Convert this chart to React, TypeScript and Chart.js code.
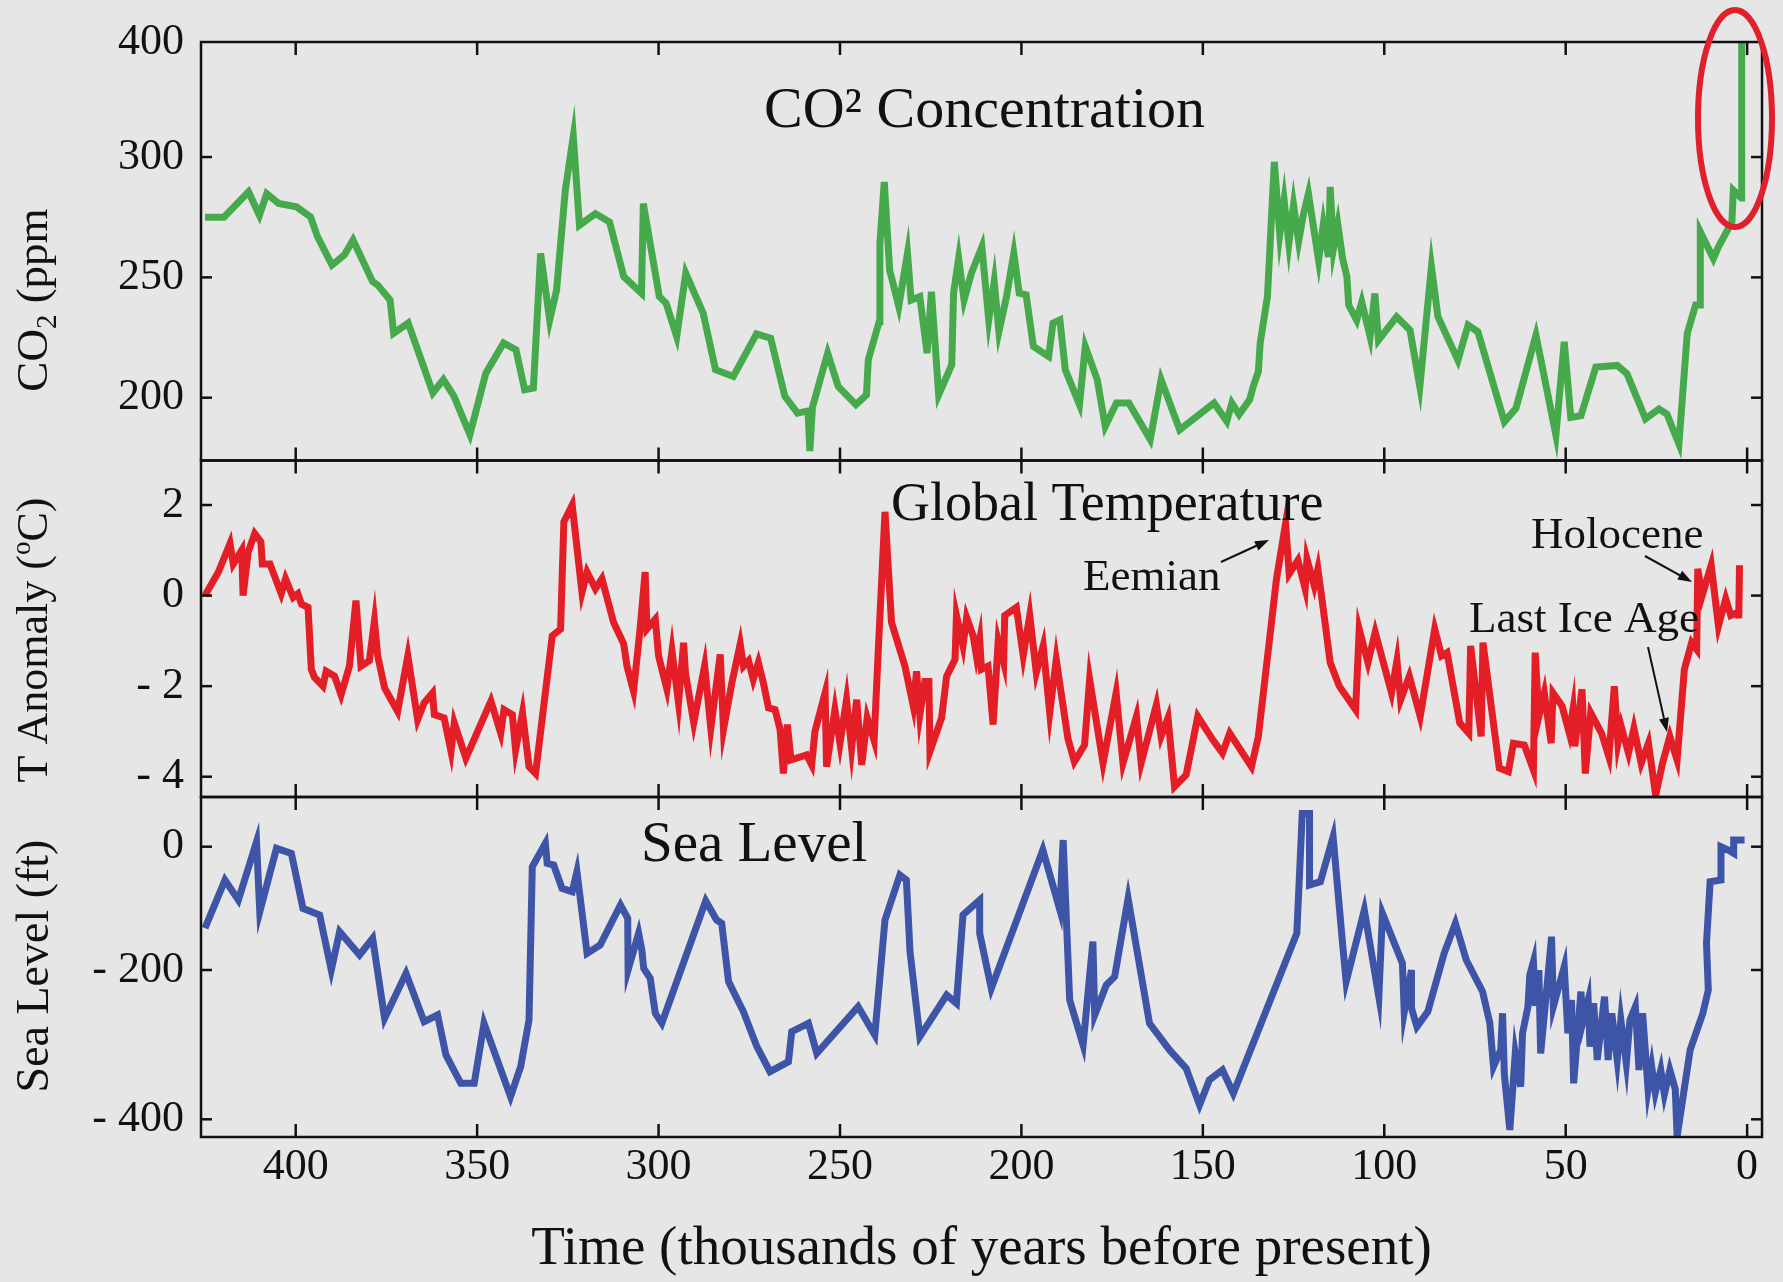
import React, { useEffect, useRef } from 'react';
import { Chart, registerables, LinearScale } from 'chart.js';

// ---------------- data ----------------
const xTickValues = [0, 50, 100, 150, 200, 250, 300, 350, 400];
const co2TickValues = [200, 250, 300, 400];
const tempTickValues = [-4, -2, 0, 2];
const seaTickValues = [-400, -200, 0];

// [thousands of years before present, CO2 ppm]
const co2Points: [number, number][] = [
  [425, 275], [419.8, 275], [413, 285.5], [410, 275.8], [408, 284.8], [404.7, 280.7], [399.8, 279.3],
  [395.9, 275.1], [394, 266.9], [390, 255.1], [386.6, 259.3], [384.2, 265.5], [378.8, 248.2], [377.4, 246.8],
  [374, 240.6], [373, 226.8], [369, 231], [362.2, 202], [359.3, 207.5], [356.4, 200.6], [352, 184.7],
  [347.6, 210.2], [342.7, 222.7], [339.3, 219.9], [336.9, 203.3], [334.5, 204], [332.5, 259.9], [330, 232.3],
  [328.1, 244.8], [325.7, 286.2], [323.5, 318], [321.8, 271.7], [317.4, 276.5], [313.5, 273], [309.6, 250.3],
  [304.7, 243.4], [304.2, 280.7], [299.8, 242], [297.9, 239.2], [295, 225.4], [292.5, 251.7], [287.7, 235.1],
  [284.3, 211.6], [279.4, 208.8], [273, 226.5], [269.1, 224.7], [265.2, 200.6], [261.7, 193.6], [258.8, 194.5],
  [258.3, 177.8], [257.6, 196], [253.4, 218.5], [250.5, 204.7], [245.6, 197.1], [242.7, 201.2], [242.2, 215.7],
  [239.2, 231.6], [239, 264], [237.8, 289.6], [236.3, 253], [233.8, 238], [231.4, 260], [230.4, 240.6],
  [228, 242], [226, 218.5], [224.8, 244], [222.8, 201.2], [219.2, 213.7], [218.7, 243.4], [217.3, 257.9],
  [215.8, 240.6], [213.8, 251.7], [210.9, 262.7], [209, 232.3], [207.5, 248.2], [206.2, 227.5], [204.1, 242],
  [202.1, 260], [200.6, 243.4], [198.7, 242.7], [196.7, 221.3], [192.5, 217.1], [191.3, 231], [189.4, 232.3],
  [187.9, 211.6], [184, 197.1], [182.4, 221.3], [179.1, 207.5], [176.9, 188.1], [173.8, 197.8], [170.4, 197.8],
  [164.5, 182.6], [161.5, 207.5], [156.4, 186.7], [146.9, 197.8], [143.4, 190.2], [142, 197.8], [140, 193],
  [137.1, 199.2], [136.1, 204.7], [134.7, 210.9], [134.2, 222.7], [132.2, 242], [130.3, 298], [128.8, 268],
  [127.6, 282], [126.3, 264], [125, 280], [123.6, 265], [122.3, 276], [120.9, 284.8], [118.1, 257.1],
  [116.8, 272], [115.4, 258.5], [114.9, 287.6], [114, 262], [112.8, 272], [111.5, 258], [110.3, 250.2],
  [109.8, 238.5], [107.6, 232.2], [106.2, 239.8], [103.9, 225.3], [102.6, 243.3], [101.6, 223.9], [96.6, 233.6],
  [92.9, 228], [90.2, 204.6], [87, 254.4], [85.2, 233.6], [79.7, 215.6], [76.9, 230.2], [74.2, 227.4],
  [66.9, 190], [63.7, 195.6], [58.2, 226], [52.7, 184.5], [50.4, 223.2], [48.6, 191.8], [45.8, 192.5],
  [41.7, 212.7], [35.8, 213.4], [33.1, 209.9], [28, 191.2], [24.3, 195.3], [22.1, 193.2], [18.8, 180.8],
  [16.5, 226.7], [14.2, 238.5], [12.9, 238.5], [12.9, 268.9], [9.3, 257.8], [7.9, 262.7], [4.2, 273],
  [3.8, 286.2], [1.6, 283], [1.5, 400],
];

// [thousands of years before present, temperature anomaly °C]
const tempPoints: [number, number][] = [
  [425, 0], [421.3, 0.52], [418.1, 1.15], [417.2, 0.7], [414.9, 1.0], [414.5, 0], [413.1, 0.96], [411.3, 1.37],
  [409.6, 1.19], [409.2, 0.7], [407.1, 0.7], [404, 0.04], [402.8, 0.37], [400.7, -0.04], [399.4, 0.04],
  [398.4, -0.19], [396.6, -0.26], [395.7, -1.63], [394.8, -1.81], [392.5, -2], [391.6, -1.67], [389.3, -1.78],
  [387.5, -2.19], [385.2, -1.56], [383.4, -0.11], [382, -1.56], [379.7, -1.44], [378.3, -0.56], [377.4, -1.33],
  [375.5, -2.04], [371.9, -2.56], [369.1, -1.33], [366.4, -2.74], [364.6, -2.37], [362.3, -2.15], [361.8, -2.63],
  [359.1, -2.7], [357.2, -3.44], [356.3, -2.81], [353.1, -3.59], [346.2, -2.33], [343.5, -3.04], [342.6, -2.52],
  [340.3, -2.63], [339.4, -3.41], [337.5, -2.59], [335.7, -3.78], [333.9, -3.93], [329.3, -0.89], [327, -0.74],
  [326.1, 1.63], [323.8, 2.0], [321.1, 0.07], [319.7, 0.52], [317.4, 0.15], [315.6, 0.37], [312.4, -0.59],
  [309.6, -1.07], [308.7, -1.56], [306.9, -2.11], [305.1, -0.74], [303.7, 0.52], [303.2, -0.74], [300.9, -0.52],
  [300, -1.33], [297.7, -2.07], [296.3, -1.22], [294.5, -2.37], [293.1, -1.04], [292.6, -1.7], [290.3, -2.81],
  [287.3, -1.55], [285.6, -2.93], [283, -1.3], [282.1, -2.96], [279.8, -1.93], [277.5, -1.07], [276.6, -1.56],
  [275.2, -1.44], [273.9, -1.85], [272.5, -1.48], [271.1, -1.93], [269.7, -2.48], [267.9, -2.52], [266.5, -2.96],
  [265.6, -3.93], [264.5, -2.85], [263.5, -3.63], [259.2, -3.52], [257.8, -3.74], [256.9, -3], [254.1, -2.15],
  [253.7, -3.78], [251.4, -2.52], [250, -3.26], [248.2, -2.3], [246.8, -3.37], [245.4, -2.3], [244, -3.74],
  [242.5, -2.7], [240.6, -3.2], [239.5, -1.3], [237.6, 1.85], [235.8, -0.59], [232.1, -1.56], [229.8, -2.44],
  [228.9, -1.67], [228, -2.63], [226.6, -1.9], [225.5, -1.9], [225.2, -3.44], [222, -2.7], [220.6, -1.78],
  [218.3, -1.41], [217.9, -0.44], [216.1, -1.11], [215.1, -0.48], [213.3, -0.89], [212.4, -1.33], [211.5, -0.96],
  [211, -1.63], [209.2, -1.56], [207.8, -2.85], [206.4, -1], [204.9, -1.48], [204.6, -0.44], [201.4, -0.26],
  [199.5, -1.33], [197.7, -0.44], [195.9, -1.7], [194, -1.11], [192.2, -2.59], [190.4, -1.41], [187.2, -3.15],
  [185.4, -3.67], [182.6, -3.3], [181.2, -1.85], [177.5, -3.7], [173.9, -2.15], [172, -3.7], [168.3, -2.67],
  [167, -3.7], [162.8, -2.41], [161.5, -3.11], [159.6, -2.7], [157.8, -4.22], [154.6, -3.96], [151.4, -2.67],
  [147.2, -3.19], [144.6, -3.48], [142.6, -3.04], [136.6, -3.78], [134.7, -3.11], [129.7, 0.37], [127.2, 1.59],
  [126.2, 0.48], [123.8, 0.78], [121.8, 0.15], [121.3, 0.81], [119.3, 0.22], [118.3, 0.59], [116.8, -0.3],
  [114.9, -1.48], [112.4, -2], [107.9, -2.52], [106.9, -0.74], [104.5, -1.48], [102.5, -0.81], [98, -2.15],
  [96.5, -1.44], [95.5, -2.3], [93.1, -1.78], [90.1, -2.67], [86.1, -0.74], [84.2, -1.33], [82.7, -1.26],
  [79.2, -2.81], [76.7, -3.04], [76.2, -1.11], [73.3, -3.11], [72.8, -1.04], [68.3, -3.81], [65.8, -3.89],
  [64.4, -3.26], [61.4, -3.3], [58.9, -3.85], [58.4, -1.26], [57.4, -2.67], [55.9, -2.15], [54, -3.26],
  [53.5, -2.15], [51, -2.44], [49, -3.04], [48, -2.52], [47.5, -3.33], [45.5, -2.07], [44.6, -3.93],
  [43.1, -2.59], [40.1, -3.04], [38.1, -3.56], [36.6, -2], [35.6, -3.26], [34.7, -2.89], [32.7, -3.48],
  [31.2, -2.93], [29.2, -3.7], [27.2, -3.26], [25.2, -4.41], [23.3, -3.7], [21.3, -3.11], [19.3, -3.63],
  [17.3, -1.63], [15.3, -1.04], [13.9, -1.19], [13.6, 0.59], [12.4, 0], [9.9, 0.67], [7.9, -0.67],
  [5.9, -0.07], [4.5, -0.44], [2.5, -0.37], [2.3, -0.5], [2.1, 0.67],
];

// [thousands of years before present, sea level ft]
const seaPoints: [number, number][] = [
  [425, -132], [419.5, -54.1], [415.8, -86.5], [410.8, 8.1], [409.9, -105.4], [405.3, -2.7], [401.2, -10.8],
  [398, -100], [393.4, -110.8], [390.2, -200], [387.9, -137.8], [382.4, -175.7], [378.8, -148.6], [375.5, -264.7],
  [369.6, -204.5], [364.6, -269.2], [360.9, -260.3], [358.6, -313.8], [354.5, -351.8], [350.8, -351.8],
  [348.1, -271.4], [340.8, -369.6], [338, -329.5], [335.7, -267], [334.8, -32.4], [331.2, 5.4], [330.7, -27],
  [328.9, -29.7], [326.6, -67.6], [323.8, -73], [322.5, -40.5], [319.7, -173], [316.1, -159.5], [310.5, -94.6],
  [308.5, -116], [308.4, -200], [305.5, -140.5], [304.6, -167.6], [304.1, -197.3], [302.3, -211.2], [300.9, -258],
  [299.1, -271.4], [287, -88], [284, -118.9], [282.6, -124.3], [280.7, -215.6], [276.6, -256], [272.9, -302.7],
  [269.3, -336.2], [264.2, -322.8], [263.3, -282.6], [258.7, -271.4], [256.4, -311.6], [245, -249.1],
  [240.4, -287.1], [237.6, -118.9], [233.5, -45.9], [231.7, -54.1], [230.7, -170.3], [228, -289.3],
  [220.6, -233.5], [217.9, -244.6], [216.1, -110.8], [211.5, -86.5], [211.5, -140.5], [208.3, -224.6],
  [194.1, -5.4], [189.4, -102.7], [188.5, 10.8], [186.7, -240.2], [183, -300.4], [180.3, -154], [179.8, -260.3],
  [176.6, -220.1], [174.3, -208.9], [170.6, -83.8], [164.7, -271.4], [159.2, -307.1], [154.6, -331.7],
  [150.9, -380.8], [148.2, -347.3], [144.6, -333.9], [141.6, -365.2], [124.1, -140.5], [122.6, 54], [120.6, 54],
  [120.6, -62.2], [117.6, -56.8], [114.1, 16.2], [111.5, -156.8], [110.5, -215.6], [105.5, -102.7],
  [101.5, -236.2], [100.5, -108.1], [95, -189.2], [94.5, -256.3], [92.5, -200], [92.5, -251.4], [91, -275.9],
  [88, -255.8], [83.5, -173], [80.4, -124.3], [77.4, -183.8], [72.9, -229], [70.9, -271.4], [69.9, -329.5],
  [67.9, -307.1], [67.4, -258], [66.9, -340.2], [65.4, -414.3], [63.9, -311.6], [62.4, -356.3], [61.9, -284.8],
  [60.4, -249.1], [59.9, -206.7], [58.9, -186.5], [58.4, -248.2], [57.4, -200], [56.9, -311.6], [54.9, -208.9],
  [53.9, -146], [53.4, -249.1], [50.4, -194.6], [49.4, -284.8], [48.4, -240.2], [47.8, -351.8], [45.8, -229],
  [45.3, -270.1], [43.8, -240.2], [43.3, -302.7], [42.3, -244.6], [41.3, -320.5], [39.3, -235.7], [38.3, -320.5],
  [37.3, -258], [35.8, -320.5], [34.8, -267], [33.3, -325], [32.3, -267], [30.8, -249.1], [29.8, -334],
  [28.8, -258], [27.3, -359.8], [26.3, -329.5], [25.3, -364.3], [23.8, -334], [22.8, -366.5], [21.3, -334],
  [19.8, -359.8], [19.3, -423], [15.7, -307.1], [12.2, -258], [10.7, -226.8], [11.2, -156.8], [10.2, -56.8],
  [7.2, -54.1], [7.2, 0], [5.2, -5.4], [3.7, -10.8], [3.7, 10.8], [0.7, 10.8],
];

// ---------------- style ----------------
const BG = '#e6e6e6';
const INK = '#111111';
const GREEN = '#46aa4c';
const RED = '#e31e26';
const BLUE = '#3e55a7';
const SERIF = '"Liberation Serif", "Times New Roman", Times, serif';

// The reference's value axes are not uniform: piecewise maps real value -> axis position
const AXIS_WARP: Record<string, number[][]> = {
  yCO2: [[200, 200], [300, 300], [400, 347.8]],
  ySea: [[-400, -442.2], [-200, -200], [0, 0]],
};

function pw(table: number[][], v: number, a: number, b: number) {
  let i = 0;
  const n = table.length;
  if (v >= table[n - 1][a]) i = n - 2;
  else if (v > table[0][a]) {
    while (i < n - 2 && v > table[i + 1][a]) i++;
  }
  const p0 = table[i], p1 = table[i + 1];
  return p0[b] + ((v - p0[a]) * (p1[b] - p0[b])) / (p1[a] - p0[a]);
}

class WarpScale extends LinearScale {
  static id = 'warp';
  getPixelForValue(value: any) {
    const t = AXIS_WARP[(this as any).id];
    const v = t && value !== null && value !== undefined ? pw(t, value, 0, 1) : value;
    return super.getPixelForValue(v);
  }
  getValueForPixel(pixel: number) {
    const v = super.getValueForPixel(pixel) as number;
    const t = AXIS_WARP[(this as any).id];
    return t ? pw(t, v, 1, 0) : v;
  }
}

Chart.register(...registerables, WarpScale as any);

const fmt = (v: any) => (Number(v) < 0 ? '- ' + Math.abs(Number(v)) : String(v));

function yAxis(weight: number, min: number, max: number, ticks: number[], type: string) {
  return {
    type,
    position: 'left',
    stack: 'panels',
    stackWeight: weight,
    min,
    max,
    grid: { display: false, drawTicks: false },
    border: { display: false },
    ticks: {
      autoSkip: false,
      padding: 17,
      color: INK,
      font: { family: SERIF, size: 44, lineHeight: 1 },
      callback: fmt,
    },
    afterBuildTicks: (s: any) => {
      s.ticks = ticks.map((v) => ({ value: v }));
    },
    afterFit: (s: any) => {
      s.width = 201;
      s.paddingTop = 0;
      s.paddingBottom = 0;
    },
  };
}

function line(ctx: CanvasRenderingContext2D, x1: number, y1: number, x2: number, y2: number) {
  ctx.beginPath();
  ctx.moveTo(x1, y1);
  ctx.lineTo(x2, y2);
  ctx.stroke();
}

function arrow(ctx: CanvasRenderingContext2D, x1: number, y1: number, x2: number, y2: number) {
  const a = Math.atan2(y2 - y1, x2 - x1);
  const L = 14, W = 5;
  line(ctx, x1, y1, x2 - 6 * Math.cos(a), y2 - 6 * Math.sin(a));
  ctx.beginPath();
  ctx.moveTo(x2, y2);
  ctx.lineTo(x2 - L * Math.cos(a) + W * Math.sin(a), y2 - L * Math.sin(a) - W * Math.cos(a));
  ctx.lineTo(x2 - L * Math.cos(a) - W * Math.sin(a), y2 - L * Math.sin(a) + W * Math.cos(a));
  ctx.closePath();
  ctx.fill();
}

type Part = { t: string; size: number; shift: number };
function verticalTitle(ctx: CanvasRenderingContext2D, baseX: number, centerY: number, parts: Part[]) {
  ctx.save();
  ctx.translate(baseX, centerY);
  ctx.rotate(-Math.PI / 2);
  ctx.textAlign = 'left';
  ctx.textBaseline = 'alphabetic';
  let total = 0;
  const widths: number[] = [];
  for (const p of parts) {
    ctx.font = `${p.size}px ${SERIF}`;
    const w = ctx.measureText(p.t).width;
    widths.push(w);
    total += w;
  }
  let x = -total / 2;
  parts.forEach((p, i) => {
    ctx.font = `${p.size}px ${SERIF}`;
    ctx.fillText(p.t, x, p.shift);
    x += widths[i];
  });
  ctx.restore();
}

function text(ctx: CanvasRenderingContext2D, s: string, x: number, y: number, size: number) {
  ctx.font = `${size}px ${SERIF}`;
  ctx.textAlign = 'left';
  ctx.textBaseline = 'alphabetic';
  ctx.fillText(s, x, y);
}

const decorPlugin = {
  id: 'decor',
  beforeDraw(chart: any) {
    const ctx = chart.ctx as CanvasRenderingContext2D;
    ctx.save();
    ctx.fillStyle = BG;
    ctx.fillRect(0, 0, chart.width, chart.height);
    ctx.restore();
  },
  afterDraw(chart: any) {
    const ctx = chart.ctx as CanvasRenderingContext2D;
    const area = chart.chartArea;
    const xs = chart.scales.x;
    ctx.save();
    ctx.strokeStyle = INK;
    ctx.fillStyle = INK;
    ctx.lineWidth = 2.5;
    for (const id of ['yCO2', 'yTemp', 'ySea']) {
      const s = chart.scales[id];
      ctx.strokeRect(area.left, s.top, area.right - area.left, s.bottom - s.top);
      for (const v of xTickValues) {
        const px = xs.getPixelForValue(v);
        line(ctx, px, s.top, px, s.top + 13);
        line(ctx, px, s.bottom, px, s.bottom - 13);
      }
      for (const t of s.ticks) {
        const py = s.getPixelForValue(t.value);
        if (Math.abs(py - s.top) < 3 || Math.abs(py - s.bottom) < 3) continue;
        line(ctx, area.left, py, area.left + 11, py);
        line(ctx, area.right, py, area.right - 11, py);
      }
    }

    // panel titles
    text(ctx, 'CO² Concentration', 764, 127, 58);
    text(ctx, 'Global Temperature', 891, 520, 54);
    text(ctx, 'Sea Level', 641, 861, 57);

    // annotations
    text(ctx, 'Eemian', 1083, 590, 45);
    text(ctx, 'Holocene', 1531, 548, 45);
    text(ctx, 'Last Ice Age', 1469, 632, 45);
    ctx.lineWidth = 2;
    arrow(ctx, 1221, 562, 1269, 540);
    arrow(ctx, 1645, 556, 1692, 582);
    arrow(ctx, 1648, 647, 1667, 732);

    // axis titles (rotated)
    verticalTitle(ctx, 47, 300, [
      { t: 'CO', size: 45, shift: 0 },
      { t: '2', size: 29, shift: 9 },
      { t: ' (ppm', size: 45, shift: 0 },
    ]);
    verticalTitle(ctx, 47, 640, [
      { t: 'T Anomaly (', size: 44, shift: 0 },
      { t: 'o', size: 27, shift: -17 },
      { t: 'C)', size: 44, shift: 0 },
    ]);
    verticalTitle(ctx, 48, 966, [{ t: 'Sea Level (ft)', size: 46, shift: 0 }]);

    // red highlight ellipse
    ctx.strokeStyle = '#e0202a';
    ctx.lineWidth = 6;
    ctx.beginPath();
    ctx.ellipse(1735, 118.5, 37, 108.5, 0, 0, Math.PI * 2);
    ctx.stroke();
    ctx.restore();
  },
};

export default function App() {
  const ref = useRef<HTMLCanvasElement | null>(null);
  useEffect(() => {
    if (!ref.current) return;
    const ds = (pts: [number, number][], color: string, yAxisID: string, label: string) => ({
      label,
      data: pts.map(([x, y]) => ({ x, y })),
      xAxisID: 'x',
      yAxisID,
      borderColor: color,
      backgroundColor: color,
      borderWidth: 7,
      pointRadius: 0,
      tension: 0,
      fill: false,
      borderJoinStyle: 'miter',
    });
    const chart = new Chart(ref.current, {
      type: 'line',
      data: {
        datasets: [
          ds(co2Points, GREEN, 'yCO2', 'CO2 (ppm)'),
          ds(tempPoints, RED, 'yTemp', 'T Anomaly (°C)'),
          ds(seaPoints, BLUE, 'ySea', 'Sea Level (ft)'),
        ] as any,
      },
      options: {
        animation: false,
        responsive: false,
        devicePixelRatio: 1,
        events: [],
        layout: { padding: { left: 0, right: 21, top: 42, bottom: 0 } },
        plugins: { legend: { display: false }, tooltip: { enabled: false }, title: { display: false } },
        scales: {
          x: {
            type: 'linear',
            position: 'bottom',
            reverse: true,
            min: -4.1,
            max: 426.1,
            grid: { display: false, drawTicks: false },
            border: { display: false },
            ticks: {
              autoSkip: false,
              maxRotation: 0,
              padding: 8,
              color: INK,
              font: { family: SERIF, size: 44, lineHeight: 1 },
              callback: (v: any) => String(v),
            },
            title: {
              display: true,
              text: 'Time (thousands of years before present)',
              color: INK,
              font: { family: SERIF, size: 55, lineHeight: 1 },
              padding: { top: 0, bottom: 5 },
            },
            afterBuildTicks: (s: any) => {
              s.ticks = xTickValues.map((v) => ({ value: v }));
            },
            afterFit: (s: any) => {
              s.height = 145;
              s.paddingLeft = 0;
              s.paddingRight = 0;
            },
          },
          ySea: yAxis(340, -470.9, 80.6, seaTickValues, 'warp'),
          yTemp: yAxis(336.5, -4.448, 2.983, tempTickValues, 'linear'),
          yCO2: yAxis(418.5, 173.9, 347.8, co2TickValues, 'warp'),
        } as any,
      },
      plugins: [decorPlugin],
    } as any);
    return () => chart.destroy();
  }, []);
  return (
    <div style={{ position: 'absolute', left: 0, top: 0, width: 1783, height: 1282, background: BG }}>
      <canvas ref={ref} width={1783} height={1282} style={{ display: 'block', width: 1783, height: 1282 }} />
    </div>
  );
}
